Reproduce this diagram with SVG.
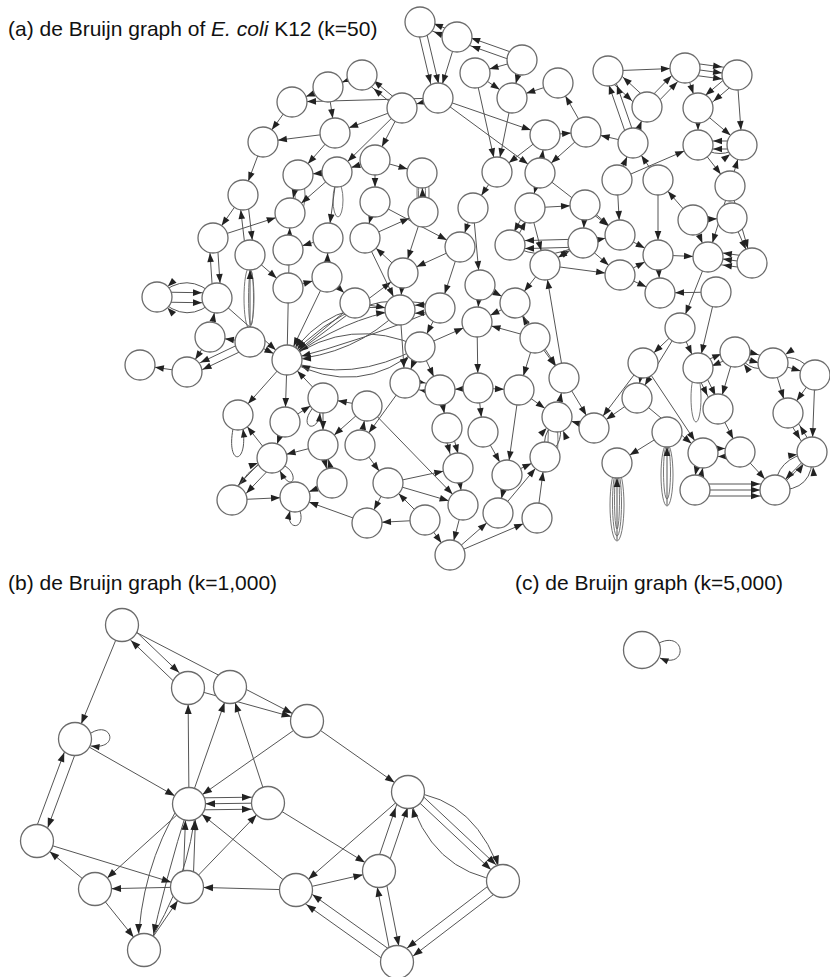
<svg xmlns="http://www.w3.org/2000/svg" width="830" height="977" viewBox="0 0 830 977">
<style>
.bg{fill:#fff}
.t{font-family:"Liberation Sans",Arial,sans-serif;font-size:21px;fill:#111}
.n circle{fill:#fff;stroke:#6b6b6b;stroke-width:1.3}
.e path{fill:none;stroke:#555;stroke-width:1;marker-end:url(#ar)}
.eb path{fill:none;stroke:#555;stroke-width:1;marker-end:url(#arB)}
.e path.l,.eb path.l{marker-end:url(#ar0)}
.lp{fill:none;stroke:#666;stroke-width:0.9}
</style>
<defs>
<marker id="ar" markerUnits="userSpaceOnUse" orient="auto" viewBox="-30 -10 40 20" markerWidth="40" markerHeight="20" refX="0" refY="0" overflow="visible"><path d="M-15,0 L-24,-3.3 L-24,3.3 Z" fill="#222"/></marker>
<marker id="arB" markerUnits="userSpaceOnUse" orient="auto" viewBox="-30 -10 40 20" markerWidth="40" markerHeight="20" refX="0" refY="0" overflow="visible"><path d="M-16.5,0 L-26,-3.5 L-26,3.5 Z" fill="#222"/></marker>
<marker id="ar0" markerUnits="userSpaceOnUse" orient="auto" viewBox="-30 -10 40 20" markerWidth="40" markerHeight="20" refX="0" refY="0" overflow="visible"><path d="M0,0 L-8.5,-3.2 L-8.5,3.2 Z" fill="#222"/></marker>
</defs>
<rect class="bg" x="0" y="0" width="830" height="977"/>

<g id="labels" class="t">
<text x="8" y="36">(a) de Bruijn graph of <tspan font-style="italic">E. coli</tspan> K12 (k=50)</text>
<text x="8" y="590">(b) de Bruijn graph (k=1,000)</text>
<text x="515" y="590">(c) de Bruijn graph (k=5,000)</text>
</g>

<g id="connectors-a" class="e">
<ellipse class="lp" cx="249" cy="298" rx="5" ry="30"/>
<ellipse class="lp" cx="251" cy="298" rx="2.5" ry="27"/>
<ellipse class="lp" cx="423" cy="193" rx="6" ry="27"/>
<ellipse class="lp" cx="422" cy="195" rx="3.5" ry="24"/>
<ellipse class="lp" cx="617" cy="505" rx="7" ry="36"/>
<ellipse class="lp" cx="617" cy="503" rx="4.5" ry="33"/>
<ellipse class="lp" cx="617" cy="500" rx="2.5" ry="29"/>
<ellipse class="lp" cx="667" cy="475" rx="6" ry="31"/>
<ellipse class="lp" cx="667" cy="472" rx="3.5" ry="27"/>
<ellipse class="lp" cx="300" cy="195" rx="5" ry="17"/>
<ellipse class="lp" cx="338" cy="200" rx="5" ry="17"/>
<ellipse class="lp" cx="696" cy="398" rx="5" ry="24"/>
<ellipse class="lp" cx="553" cy="440" rx="5" ry="22"/>
<path d="M362 75L292 102"/>
<path d="M362 75L328 87"/>
<path d="M292 102L263 142"/>
<path d="M335 133L263 142"/>
<path d="M263 142L243 195"/>
<path d="M402 108L335 133"/>
<path d="M438 98L292 102"/>
<path d="M328 87L335 133"/>
<path d="M335 133L298 175"/>
<path d="M337 172L298 175"/>
<path d="M402 108L337 172"/>
<path d="M375 160L337 172"/>
<path d="M298 175L290 213"/>
<path d="M337 172L290 213"/>
<path d="M337 172L328 238"/>
<path d="M213 238L290 213"/>
<path d="M246 255L239 195"/>
<path d="M247 195L254 255"/>
<path d="M213 298L209 238"/>
<path d="M217 238L221 298"/>
<path d="M157 292L217 293"/>
<path d="M157 302L217 303"/>
<path d="M217 298Q187 268 157 297"/>
<path d="M217 298Q187 328 157 297"/>
<path d="M217 298L287 360"/>
<path d="M210 337L217 298"/>
<path d="M250 339L187 369"/>
<path d="M252 346L189 376"/>
<path d="M187 372L140 365"/>
<path d="M250 342L210 337"/>
<path d="M250 342L287 360"/>
<path d="M287 360L290 213"/>
<path d="M250 255L288 288"/>
<path d="M328 238L288 250"/>
<path d="M327 277L328 238"/>
<path d="M327 277L287 360"/>
<path d="M250 342L250 255"/>
<path d="M210 337L187 372"/>
<path d="M288 288L327 277"/>
<path d="M243 195L213 238"/>
<path d="M400 310Q330 295 287 360"/>
<path d="M400 310Q355 355 287 360"/>
<path d="M287 360Q345 318 400 310"/>
<path d="M420 347Q350 315 287 360"/>
<path d="M420 347Q350 385 287 360"/>
<path d="M440 308Q360 280 287 360"/>
<path d="M287 360Q360 400 420 347"/>
<path d="M440 308Q365 340 287 360"/>
<path d="M355 303L287 360"/>
<path d="M287 360L403 273"/>
<path d="M375 202L365 238"/>
<path d="M365 238L423 212"/>
<path d="M403 273L365 238"/>
<path d="M423 212L403 273"/>
<path d="M460 247L403 273"/>
<path d="M375 202L460 247"/>
<path d="M473 208L460 247"/>
<path d="M473 208L480 285"/>
<path d="M460 247L440 308"/>
<path d="M527 208L507 245"/>
<path d="M513 245L533 208"/>
<path d="M583 239L510 241"/>
<path d="M583 247L510 249"/>
<path d="M510 245Q546 264 583 243"/>
<path d="M530 208L545 265"/>
<path d="M585 205L583 243"/>
<path d="M480 285L477 322"/>
<path d="M515 303L477 322"/>
<path d="M545 265L515 303"/>
<path d="M440 308L420 347"/>
<path d="M440 304L400 306"/>
<path d="M440 312L400 314"/>
<path d="M420 347L477 322"/>
<path d="M535 338L477 322"/>
<path d="M535 338L515 303"/>
<path d="M564 378L545 265"/>
<path d="M535 338L564 378"/>
<path d="M403 273L400 310"/>
<path d="M375 160L375 202"/>
<path d="M423 212L422 173"/>
<path d="M402 108L375 160"/>
<path d="M497 172L473 208"/>
<path d="M540 173L530 208"/>
<path d="M545 135L497 172"/>
<path d="M512 98L497 172"/>
<path d="M540 173L545 135"/>
<path d="M530 208L585 205"/>
<path d="M583 243L545 265"/>
<path d="M585 205L620 235"/>
<path d="M583 243L620 235"/>
<path d="M375 160L422 173"/>
<path d="M365 238L400 310"/>
<path d="M355 303L400 310"/>
<path d="M327 277L355 303"/>
<path d="M480 285L515 303"/>
<path d="M477 322L478 388"/>
<path d="M535 338L519 390"/>
<path d="M400 310L405 383"/>
<path d="M420 347L405 383"/>
<path d="M515 303L564 378"/>
<path d="M416 22L434 98"/>
<path d="M424 22L442 98"/>
<path d="M457 37L438 98"/>
<path d="M457 33L420 18"/>
<path d="M457 41L420 26"/>
<path d="M522 56L457 33"/>
<path d="M522 64L457 41"/>
<path d="M402 104L362 71"/>
<path d="M402 112L362 79"/>
<path d="M438 98L402 108"/>
<path d="M438 98L545 135"/>
<path d="M438 98L540 173"/>
<path d="M522 60L475 73"/>
<path d="M522 60L512 98"/>
<path d="M475 73L512 98"/>
<path d="M558 83L512 98"/>
<path d="M586 132L558 83"/>
<path d="M545 135L586 132"/>
<path d="M475 73L497 172"/>
<path d="M633 143L586 132"/>
<path d="M586 132L540 173"/>
<path d="M608 71L685 68"/>
<path d="M685 62L737 69"/>
<path d="M685 68L737 75"/>
<path d="M685 74L737 81"/>
<path d="M737 75L742 145"/>
<path d="M650 110L688 71"/>
<path d="M644 104L682 65"/>
<path d="M604 75L643 111"/>
<path d="M651 103L612 67"/>
<path d="M685 68L698 108"/>
<path d="M733 72L694 105"/>
<path d="M741 78L702 111"/>
<path d="M698 108L742 145"/>
<path d="M742 141L698 141"/>
<path d="M742 149L698 149"/>
<path d="M698 145Q720 162 742 145"/>
<path d="M698 108L698 145"/>
<path d="M629 143L604 71"/>
<path d="M637 143L612 71"/>
<path d="M633 143L647 107"/>
<path d="M617 180L633 143"/>
<path d="M658 180L633 143"/>
<path d="M698 145L730 186"/>
<path d="M730 186L742 145"/>
<path d="M617 180L698 145"/>
<path d="M658 180L658 255"/>
<path d="M730 186L708 257"/>
<path d="M730 186L752 263"/>
<path d="M752 257L708 251"/>
<path d="M752 263L708 257"/>
<path d="M752 269L708 263"/>
<path d="M693 220L708 257"/>
<path d="M658 255L708 257"/>
<path d="M708 257L680 328"/>
<path d="M658 255L660 293"/>
<path d="M716 292L660 293"/>
<path d="M716 292L698 368"/>
<path d="M680 328L643 363"/>
<path d="M680 328L698 368"/>
<path d="M698 364L735 348"/>
<path d="M735 356L698 372"/>
<path d="M735 348L773 359"/>
<path d="M735 356L773 367"/>
<path d="M773 363Q754 378 735 352"/>
<path d="M773 363L815 375"/>
<path d="M815 375Q795 348 773 363"/>
<path d="M732 218L752 263"/>
<path d="M693 220L732 218"/>
<path d="M620 235L658 255"/>
<path d="M620 275L658 255"/>
<path d="M583 243L620 275"/>
<path d="M545 265L620 275"/>
<path d="M620 275L660 293"/>
<path d="M540 173L620 235"/>
<path d="M617 180L620 235"/>
<path d="M693 220L658 180"/>
<path class="l" d="M233 429C226 466 248 466 243 429"/>
<path d="M287 360L238 415"/>
<path d="M272 458L238 415"/>
<path d="M276 462L236 504"/>
<path d="M268 454L228 496"/>
<path d="M232 500Q244 468 272 458"/>
<path class="l" d="M285 466C300 475 292 494 280 471"/>
<path d="M285 422L272 458"/>
<path d="M287 360L285 422"/>
<path class="l" d="M300 511C306 530 285 531 290 511"/>
<path d="M367 523L295 497"/>
<path d="M332 483L295 497"/>
<path d="M323 398L323 445"/>
<path d="M321 445L330 483"/>
<path d="M334 483L325 445"/>
<path d="M367 406L323 398"/>
<path d="M367 406L323 445"/>
<path d="M323 445L272 458"/>
<path d="M323 398L287 360"/>
<path class="l" d="M312 409C298 428 318 434 320 413"/>
<path d="M285 422L323 398"/>
<path d="M232 500L295 497"/>
<path d="M425 520L367 523"/>
<path d="M463 505L450 555"/>
<path d="M425 520L450 555"/>
<path d="M450 555L498 513"/>
<path d="M450 555L537 518"/>
<path d="M443 428L454 468"/>
<path d="M451 428L462 468"/>
<path d="M537 518L545 457"/>
<path d="M498 513L545 457"/>
<path d="M545 457Q540 435 557 417"/>
<path d="M545 457Q568 442 557 417"/>
<path d="M557 417L564 378"/>
<path d="M360 445L388 483"/>
<path d="M360 445L367 406"/>
<path d="M478 388L483 432"/>
<path d="M483 432L507 475"/>
<path d="M458 468L463 505"/>
<path d="M507 475L498 513"/>
<path d="M388 483L367 523"/>
<path d="M425 520L388 483"/>
<path d="M478 388L519 390"/>
<path d="M519 390L557 417"/>
<path d="M405 379L440 386"/>
<path d="M440 394L405 387"/>
<path d="M478 388L440 390"/>
<path d="M405 383L360 445"/>
<path d="M388 483L463 505"/>
<path d="M367 406L463 505"/>
<path d="M388 483L458 468"/>
<path d="M440 390L447 428"/>
<path d="M420 347L440 390"/>
<path d="M519 390L507 475"/>
<path d="M507 475L545 457"/>
<path d="M637 398L594 428"/>
<path d="M667 432L617 463"/>
<path d="M617 540L617 463"/>
<path d="M667 505L667 432"/>
<path d="M703 449L740 448"/>
<path d="M740 456L703 457"/>
<path d="M700 453L692 490"/>
<path d="M698 490L706 453"/>
<path d="M695 484L775 484"/>
<path d="M695 490L775 490"/>
<path d="M695 496L775 496"/>
<path d="M740 452L775 490"/>
<path d="M775 490Q775 458 812 452"/>
<path d="M775 490Q798 472 812 452"/>
<path d="M775 490Q815 492 812 452"/>
<path d="M812 452L775 490"/>
<path d="M784 413L808 452"/>
<path d="M816 452L792 413"/>
<path d="M815 375L788 413"/>
<path d="M773 363L788 413"/>
<path d="M637 398L703 453"/>
<path d="M643 363L703 453"/>
<path d="M694 368L714 409"/>
<path d="M702 368L722 409"/>
<path d="M643 363L637 398"/>
<path d="M680 328L637 398"/>
<path d="M594 428L557 417"/>
<path d="M564 378L594 428"/>
<path d="M643 363L594 428"/>
<path d="M735 352L718 409"/>
<path d="M718 409L740 452"/>
<path d="M815 375L812 452"/>
</g>

<g id="connectors-b" class="eb">
<path d="M122 625L75 739"/>
<path d="M125 621L191 684"/>
<path d="M185 692L119 629"/>
<path d="M122 625L307 721"/>
<path d="M188 688L307 721"/>
<path class="l" d="M91 733C112 720 120 750 91 746"/>
<path d="M75 739L189 804"/>
<path d="M80 741L42 843"/>
<path d="M32 839L70 737"/>
<path d="M189 804L188 688"/>
<path d="M189 804L230 687"/>
<path d="M268 803L230 687"/>
<path d="M189 798L268 797"/>
<path d="M189 810L268 809"/>
<path d="M268 803L189 804"/>
<path d="M307 721L189 804"/>
<path d="M183 887L186 804"/>
<path d="M193 887L196 804"/>
<path d="M180 804Q140 870 138 950"/>
<path d="M189 804Q165 880 150 950"/>
<path d="M144 950Q190 880 196 804"/>
<path d="M189 804L95 889"/>
<path d="M37 841L187 887"/>
<path d="M95 889L37 841"/>
<path d="M187 887L95 889"/>
<path d="M95 889L144 950"/>
<path d="M144 950L187 887"/>
<path d="M187 887L268 803"/>
<path d="M296 890L187 887"/>
<path d="M307 721L408 792"/>
<path d="M408 792L296 890"/>
<path d="M296 890L379 871"/>
<path d="M268 803L379 871"/>
<path d="M296 890L189 804"/>
<path d="M374 871L401 792"/>
<path d="M386 871L413 792"/>
<path d="M384 871L402 962"/>
<path d="M392 962L374 871"/>
<path d="M400 957L299 885"/>
<path d="M394 967L293 895"/>
<path d="M506 885L400 966"/>
<path d="M500 877L394 958"/>
<path d="M408 792L503 881"/>
<path d="M413 787L508 876"/>
<path d="M408 792Q478 798 503 881"/>
<path d="M503 881Q430 872 408 792"/>
</g>

<g id="connectors-c" class="eb">
<path class="l" d="M659 643C686 630 688 670 660 658"/>
</g>

<g id="nodes-a" class="n">
<g id="a1"><circle cx="292" cy="102" r="15"/></g>
<g id="a2"><circle cx="328" cy="87" r="15"/></g>
<g id="a3"><circle cx="362" cy="75" r="15"/></g>
<g id="a4"><circle cx="263" cy="142" r="15"/></g>
<g id="a5"><circle cx="335" cy="133" r="15"/></g>
<g id="a6"><circle cx="298" cy="175" r="15"/></g>
<g id="a7"><circle cx="337" cy="172" r="15"/></g>
<g id="a8"><circle cx="243" cy="195" r="15"/></g>
<g id="a9"><circle cx="420" cy="22" r="15"/></g>
<g id="a10"><circle cx="457" cy="37" r="15"/></g>
<g id="a11"><circle cx="522" cy="60" r="15"/></g>
<g id="a12"><circle cx="402" cy="108" r="15"/></g>
<g id="a13"><circle cx="438" cy="98" r="15"/></g>
<g id="a14"><circle cx="475" cy="73" r="15"/></g>
<g id="a15"><circle cx="512" cy="98" r="15"/></g>
<g id="a16"><circle cx="558" cy="83" r="15"/></g>
<g id="a17"><circle cx="545" cy="135" r="15"/></g>
<g id="a18"><circle cx="586" cy="132" r="15"/></g>
<g id="a19"><circle cx="375" cy="160" r="15"/></g>
<g id="a20"><circle cx="422" cy="173" r="15"/></g>
<g id="a21"><circle cx="497" cy="172" r="15"/></g>
<g id="a22"><circle cx="540" cy="173" r="15"/></g>
<g id="a23"><circle cx="608" cy="71" r="15"/></g>
<g id="a24"><circle cx="685" cy="68" r="15"/></g>
<g id="a25"><circle cx="737" cy="75" r="15"/></g>
<g id="a26"><circle cx="647" cy="107" r="15"/></g>
<g id="a27"><circle cx="698" cy="108" r="15"/></g>
<g id="a28"><circle cx="633" cy="143" r="15"/></g>
<g id="a29"><circle cx="698" cy="145" r="15"/></g>
<g id="a30"><circle cx="742" cy="145" r="15"/></g>
<g id="a31"><circle cx="617" cy="180" r="15"/></g>
<g id="a32"><circle cx="658" cy="180" r="15"/></g>
<g id="a33"><circle cx="730" cy="186" r="15"/></g>
<g id="a34"><circle cx="290" cy="213" r="15"/></g>
<g id="a35"><circle cx="328" cy="238" r="15"/></g>
<g id="a36"><circle cx="213" cy="238" r="15"/></g>
<g id="a37"><circle cx="250" cy="255" r="15"/></g>
<g id="a38"><circle cx="288" cy="250" r="15"/></g>
<g id="a39"><circle cx="157" cy="297" r="15"/></g>
<g id="a40"><circle cx="217" cy="298" r="15"/></g>
<g id="a41"><circle cx="288" cy="288" r="15"/></g>
<g id="a42"><circle cx="327" cy="277" r="15"/></g>
<g id="a43"><circle cx="355" cy="303" r="15"/></g>
<g id="a44"><circle cx="210" cy="337" r="15"/></g>
<g id="a45"><circle cx="250" cy="342" r="15"/></g>
<g id="a46"><circle cx="287" cy="360" r="15"/></g>
<g id="a47"><circle cx="140" cy="365" r="15"/></g>
<g id="a48"><circle cx="187" cy="372" r="15"/></g>
<g id="a49"><circle cx="375" cy="202" r="15"/></g>
<g id="a50"><circle cx="423" cy="212" r="15"/></g>
<g id="a51"><circle cx="473" cy="208" r="15"/></g>
<g id="a52"><circle cx="530" cy="208" r="15"/></g>
<g id="a53"><circle cx="585" cy="205" r="15"/></g>
<g id="a54"><circle cx="365" cy="238" r="15"/></g>
<g id="a55"><circle cx="460" cy="247" r="15"/></g>
<g id="a56"><circle cx="510" cy="245" r="15"/></g>
<g id="a57"><circle cx="583" cy="243" r="15"/></g>
<g id="a58"><circle cx="403" cy="273" r="15"/></g>
<g id="a59"><circle cx="480" cy="285" r="15"/></g>
<g id="a60"><circle cx="545" cy="265" r="15"/></g>
<g id="a61"><circle cx="515" cy="303" r="15"/></g>
<g id="a62"><circle cx="440" cy="308" r="15"/></g>
<g id="a63"><circle cx="400" cy="310" r="15"/></g>
<g id="a64"><circle cx="477" cy="322" r="15"/></g>
<g id="a65"><circle cx="535" cy="338" r="15"/></g>
<g id="a66"><circle cx="420" cy="347" r="15"/></g>
<g id="a67"><circle cx="564" cy="378" r="15"/></g>
<g id="a68"><circle cx="405" cy="383" r="15"/></g>
<g id="a69"><circle cx="519" cy="390" r="15"/></g>
<g id="a70"><circle cx="620" cy="235" r="15"/></g>
<g id="a71"><circle cx="658" cy="255" r="15"/></g>
<g id="a72"><circle cx="693" cy="220" r="15"/></g>
<g id="a73"><circle cx="732" cy="218" r="15"/></g>
<g id="a74"><circle cx="708" cy="257" r="15"/></g>
<g id="a75"><circle cx="752" cy="263" r="15"/></g>
<g id="a76"><circle cx="620" cy="275" r="15"/></g>
<g id="a77"><circle cx="660" cy="293" r="15"/></g>
<g id="a78"><circle cx="716" cy="292" r="15"/></g>
<g id="a79"><circle cx="680" cy="328" r="15"/></g>
<g id="a80"><circle cx="735" cy="352" r="15"/></g>
<g id="a81"><circle cx="643" cy="363" r="15"/></g>
<g id="a82"><circle cx="698" cy="368" r="15"/></g>
<g id="a83"><circle cx="773" cy="363" r="15"/></g>
<g id="a84"><circle cx="815" cy="375" r="15"/></g>
<g id="a85"><circle cx="238" cy="415" r="15"/></g>
<g id="a86"><circle cx="285" cy="422" r="15"/></g>
<g id="a87"><circle cx="323" cy="398" r="15"/></g>
<g id="a88"><circle cx="367" cy="406" r="15"/></g>
<g id="a89"><circle cx="272" cy="458" r="15"/></g>
<g id="a90"><circle cx="323" cy="445" r="15"/></g>
<g id="a91"><circle cx="332" cy="483" r="15"/></g>
<g id="a92"><circle cx="232" cy="500" r="15"/></g>
<g id="a93"><circle cx="295" cy="497" r="15"/></g>
<g id="a94"><circle cx="367" cy="523" r="15"/></g>
<g id="a95"><circle cx="440" cy="390" r="15"/></g>
<g id="a96"><circle cx="478" cy="388" r="15"/></g>
<g id="a97"><circle cx="557" cy="417" r="15"/></g>
<g id="a98"><circle cx="360" cy="445" r="15"/></g>
<g id="a99"><circle cx="447" cy="428" r="15"/></g>
<g id="a100"><circle cx="483" cy="432" r="15"/></g>
<g id="a101"><circle cx="458" cy="468" r="15"/></g>
<g id="a102"><circle cx="507" cy="475" r="15"/></g>
<g id="a103"><circle cx="545" cy="457" r="15"/></g>
<g id="a104"><circle cx="388" cy="483" r="15"/></g>
<g id="a105"><circle cx="463" cy="505" r="15"/></g>
<g id="a106"><circle cx="498" cy="513" r="15"/></g>
<g id="a107"><circle cx="537" cy="518" r="15"/></g>
<g id="a108"><circle cx="425" cy="520" r="15"/></g>
<g id="a109"><circle cx="450" cy="555" r="15"/></g>
<g id="a110"><circle cx="637" cy="398" r="15"/></g>
<g id="a111"><circle cx="718" cy="409" r="15"/></g>
<g id="a112"><circle cx="788" cy="413" r="15"/></g>
<g id="a113"><circle cx="594" cy="428" r="15"/></g>
<g id="a114"><circle cx="667" cy="432" r="15"/></g>
<g id="a115"><circle cx="617" cy="463" r="15"/></g>
<g id="a116"><circle cx="703" cy="453" r="15"/></g>
<g id="a117"><circle cx="740" cy="452" r="15"/></g>
<g id="a118"><circle cx="812" cy="452" r="15"/></g>
<g id="a119"><circle cx="695" cy="490" r="15"/></g>
<g id="a120"><circle cx="775" cy="490" r="15"/></g>
</g>

<g id="nodes-b" class="n">
<g id="b1"><circle cx="122" cy="625" r="16.5"/></g>
<g id="b2"><circle cx="188" cy="688" r="16.5"/></g>
<g id="b3"><circle cx="230" cy="687" r="16.5"/></g>
<g id="b4"><circle cx="75" cy="739" r="16.5"/></g>
<g id="b5"><circle cx="189" cy="804" r="16.5"/></g>
<g id="b6"><circle cx="268" cy="803" r="16.5"/></g>
<g id="b7"><circle cx="37" cy="841" r="16.5"/></g>
<g id="b8"><circle cx="95" cy="889" r="16.5"/></g>
<g id="b9"><circle cx="187" cy="887" r="16.5"/></g>
<g id="b10"><circle cx="144" cy="950" r="16.5"/></g>
<g id="b11"><circle cx="307" cy="721" r="16.5"/></g>
<g id="b12"><circle cx="408" cy="792" r="16.5"/></g>
<g id="b13"><circle cx="379" cy="871" r="16.5"/></g>
<g id="b14"><circle cx="296" cy="890" r="16.5"/></g>
<g id="b15"><circle cx="503" cy="881" r="16.5"/></g>
<g id="b16"><circle cx="397" cy="962" r="16.5"/></g>
</g>

<g id="nodes-c" class="n">
<g id="c1"><circle cx="642" cy="650" r="18.5"/></g>
</g>
</svg>
